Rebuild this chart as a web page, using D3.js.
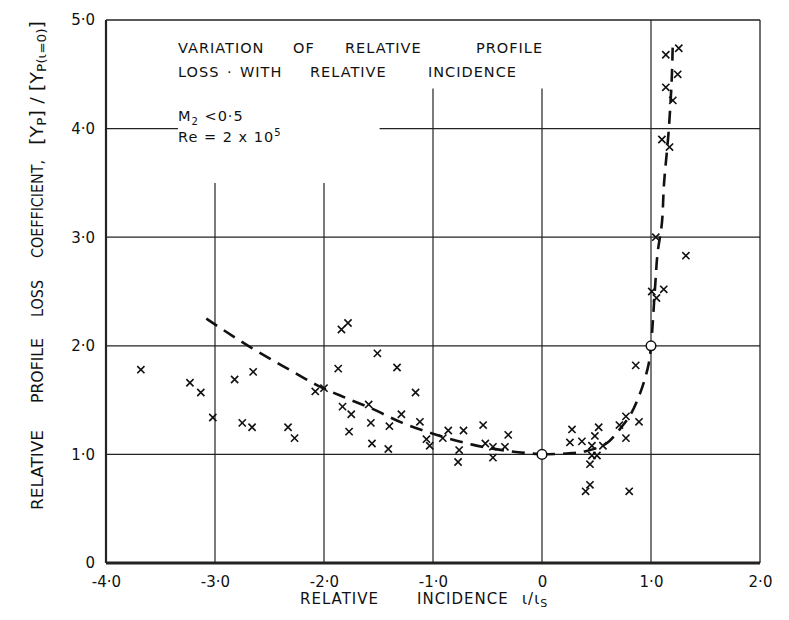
<!DOCTYPE html>
<html><head><meta charset="utf-8">
<script src="https://cdn.jsdelivr.net/npm/d3@7"></script>
<style>
body{margin:0;background:#fff;}
svg text{font-family:"DejaVu Sans",sans-serif;fill:#111;}
</style></head>
<body><svg id="c" width="789" height="620"></svg>
<script>
// ---- data ----
const xTicks = [-4, -3, -2, -1, 0, 1, 2];
const xTickLabels = ["-4·0", "-3·0", "-2·0", "-1·0", "0", "1·0", "2·0"];
const yTicks = [0, 1, 2, 3, 4, 5];
const yTickLabels = ["0", "1·0", "2·0", "3·0", "4·0", "5·0"];

const pointsX = [-3.68,-3.23,-3.13,-3.02,-2.82,-2.65,-2.75,-2.66,-2.33,-2.27,-2.08,-2.00,-1.87,-1.84,-1.78,-1.51,-1.33,-1.16,
  -1.83,-1.75,-1.59,-1.77,-1.57,-1.40,-1.29,-1.56,-1.41,-1.12,-1.06,-1.03,-0.91,-0.86,-0.72,-0.76,-0.77,-0.54,-0.52,-0.45,-0.45,-0.34,-0.31,
  0.275,0.256,0.366,0.52,0.485,0.458,0.559,0.504,0.458,0.44,0.44,0.40,0.80,0.71,0.77,0.89,0.77,0.86,
  1.255,1.136,1.245,1.136,1.20,1.10,1.17,1.044,1.32,1.007,1.05,1.117];
const pointsY = [1.78,1.66,1.57,1.34,1.69,1.76,1.29,1.25,1.25,1.15,1.58,1.61,1.79,2.15,2.21,1.93,1.80,1.57,
  1.44,1.37,1.46,1.21,1.29,1.26,1.37,1.10,1.05,1.30,1.14,1.08,1.15,1.22,1.22,1.04,0.93,1.27,1.10,1.07,0.97,1.07,1.18,
  1.23,1.11,1.12,1.25,1.17,1.08,1.08,0.99,0.99,0.91,0.72,0.66,0.66,1.27,1.35,1.30,1.15,1.82,
  4.74,4.68,4.50,4.38,4.26,3.90,3.83,3.00,2.83,2.50,2.44,2.52];

const curveLeftX = [-3.08,-2.68,-2.30,-2.07,-1.80,-1.58,-1.28,-1.00,-0.64,-0.30,0];
const curveLeftY = [2.25,1.99,1.77,1.64,1.52,1.43,1.29,1.19,1.09,1.03,1.0];
const curveRightX = [0,0.25,0.40,0.59,0.72,0.82,0.92,0.98,1.0,1.04,1.06,1.10,1.12,1.16,1.19,1.20];
const curveRightY = [1.0,1.01,1.03,1.10,1.24,1.38,1.62,1.84,2.0,2.58,2.85,3.13,3.50,3.95,4.45,4.80];

const circleX = [0, 1.0];
const circleY = [1.0, 2.0];

// ---- layout ----
const svg = d3.select("#c");
const x = d3.scaleLinear().domain([-4, 2]).range([106, 760]);
const y = d3.scaleLinear().domain([0, 5]).range([563, 20]);

const grid = svg.append("g").attr("stroke", "#222").attr("stroke-width", 1.2).attr("fill", "none");
[1, 2, 3].forEach(v => grid.append("line").attr("x1", x(-4)).attr("x2", x(2)).attr("y1", y(v)).attr("y2", y(v)));
grid.append("line").attr("x1", x(-4)).attr("x2", x(-3.34)).attr("y1", y(4)).attr("y2", y(4));
grid.append("line").attr("x1", x(-1.49)).attr("x2", x(2)).attr("y1", y(4)).attr("y2", y(4));
[-3, -2].forEach(v => grid.append("line").attr("x1", x(v)).attr("x2", x(v)).attr("y1", y(0)).attr("y2", y(3.5)));
[-1, 0].forEach(v => grid.append("line").attr("x1", x(v)).attr("x2", x(v)).attr("y1", y(0)).attr("y2", y(4.37)));
grid.append("line").attr("x1", x(1)).attr("x2", x(1)).attr("y1", y(0)).attr("y2", y(5));
grid.append("line").attr("x1", x(-4)).attr("x2", x(2)).attr("y1", y(5)).attr("y2", y(5)).attr("stroke-width", 1.5);
grid.append("line").attr("x1", x(2)).attr("x2", x(2)).attr("y1", y(0)).attr("y2", y(5)).attr("stroke-width", 1.3);
grid.append("line").attr("x1", x(-4)).attr("x2", x(-4)).attr("y1", y(0)).attr("y2", y(5)).attr("stroke-width", 2.2);
grid.append("line").attr("x1", x(-4)).attr("x2", x(2)).attr("y1", y(0)).attr("y2", y(0)).attr("stroke-width", 3);

// tick labels
const xAxis = d3.axisBottom(x).tickValues(xTicks).tickSize(0).tickPadding(13)
  .tickFormat((d, i) => xTickLabels[i]);
const gx = svg.append("g").attr("transform", `translate(0,${y(0)})`).call(xAxis);
gx.select(".domain").remove();
gx.selectAll("text").attr("font-size", 15).attr("font-family", "DejaVu Sans").attr("fill", "#111");

const yAxis = d3.axisLeft(y).tickValues(yTicks).tickSize(0).tickPadding(11)
  .tickFormat((d, i) => yTickLabels[i]);
const gy = svg.append("g").attr("transform", `translate(${x(-4)},0)`).call(yAxis);
gy.select(".domain").remove();
gy.selectAll("text").attr("font-size", 15).attr("font-family", "DejaVu Sans").attr("fill", "#111");

// dashed curves
const line = d3.line().x(d => x(d[0])).y(d => y(d[1])).curve(d3.curveMonotoneX);
const lineR = d3.line().x(d => x(d[0])).y(d => y(d[1])).curve(d3.curveCatmullRom.alpha(0.5));
svg.append("path").datum(curveLeftX.map((v, i) => [v, curveLeftY[i]]))
  .attr("d", line).attr("fill", "none").attr("stroke", "#111").attr("stroke-width", 2.6)
  .attr("stroke-dasharray", "13,8");
svg.append("path").datum(curveRightX.map((v, i) => [v, curveRightY[i]]))
  .attr("d", lineR).attr("fill", "none").attr("stroke", "#111").attr("stroke-width", 2.6)
  .attr("stroke-dasharray", "13,8");

// cross markers
const s = 3.6;
svg.append("g").selectAll("path").data(pointsX.map((v, i) => [v, pointsY[i]])).join("path")
  .attr("d", d => { const px = x(d[0]), py = y(d[1]);
    return `M${px - s},${py - s}L${px + s},${py + s}M${px - s},${py + s}L${px + s},${py - s}`; })
  .attr("stroke", "#111").attr("stroke-width", 1.6).attr("fill", "none");

// circles
svg.append("g").selectAll("circle").data(circleX.map((v, i) => [v, circleY[i]])).join("circle")
  .attr("cx", d => x(d[0])).attr("cy", d => y(d[1])).attr("r", 4.8)
  .attr("fill", "#fff").attr("stroke", "#111").attr("stroke-width", 1.5);

// title text
const t = svg.append("g").attr("font-size", 14.5).attr("letter-spacing", 1);
[["VARIATION", 178], ["OF", 293], ["RELATIVE", 345], ["PROFILE", 476]].forEach(([w, px]) =>
  t.append("text").attr("x", px).attr("y", 53).text(w));
[["LOSS", 178], ["·", 227], ["WITH", 240], ["RELATIVE", 310], ["INCIDENCE", 428]].forEach(([w, px]) =>
  t.append("text").attr("x", px).attr("y", 77).text(w));
const m = t.append("text").attr("x", 178).attr("y", 121);
m.append("tspan").text("M");
m.append("tspan").attr("font-size", 10).attr("dy", 4).text("2");
m.append("tspan").attr("dy", -4).text(" <0·5");
const r = t.append("text").attr("x", 178).attr("y", 142);
r.append("tspan").text("Re  = 2 x 10");
r.append("tspan").attr("font-size", 10).attr("dy", -6).text("5");

// x axis title
const xt = svg.append("g").attr("font-size", 15).attr("letter-spacing", 1);
xt.append("text").attr("x", 300).attr("y", 604).text("RELATIVE");
xt.append("text").attr("x", 417).attr("y", 604).text("INCIDENCE");
const iota = xt.append("text").attr("x", 522).attr("y", 604);
iota.append("tspan").text("ι/ι");
iota.append("tspan").attr("font-size", 11).attr("dy", 3).text("S");

// y axis title (rotated; x in rotated frame = -pageY)
const yt = svg.append("g").attr("transform", "translate(43,0) rotate(-90)").attr("font-size", 16);
[["RELATIVE", -510, 80], ["PROFILE", -403, 65], ["LOSS", -317, 37], ["COEFFICIENT,", -258, 98]].forEach(([w, px, len]) =>
  yt.append("text").attr("x", px).attr("y", 0).attr("textLength", len)
    .attr("lengthAdjust", "spacingAndGlyphs").text(w));
const yf = yt.append("text").attr("x", -145).attr("y", 0).attr("font-size", 17)
  .attr("textLength", 124).attr("lengthAdjust", "spacingAndGlyphs");
yf.append("tspan").text("[Y");
yf.append("tspan").attr("font-size", 12).attr("dy", 3).text("P");
yf.append("tspan").attr("dy", -3).text("] / [Y");
yf.append("tspan").attr("font-size", 12).attr("dy", 3).text("P(ι=0)");
yf.append("tspan").attr("dy", -3).text("]");
</script></body></html>
